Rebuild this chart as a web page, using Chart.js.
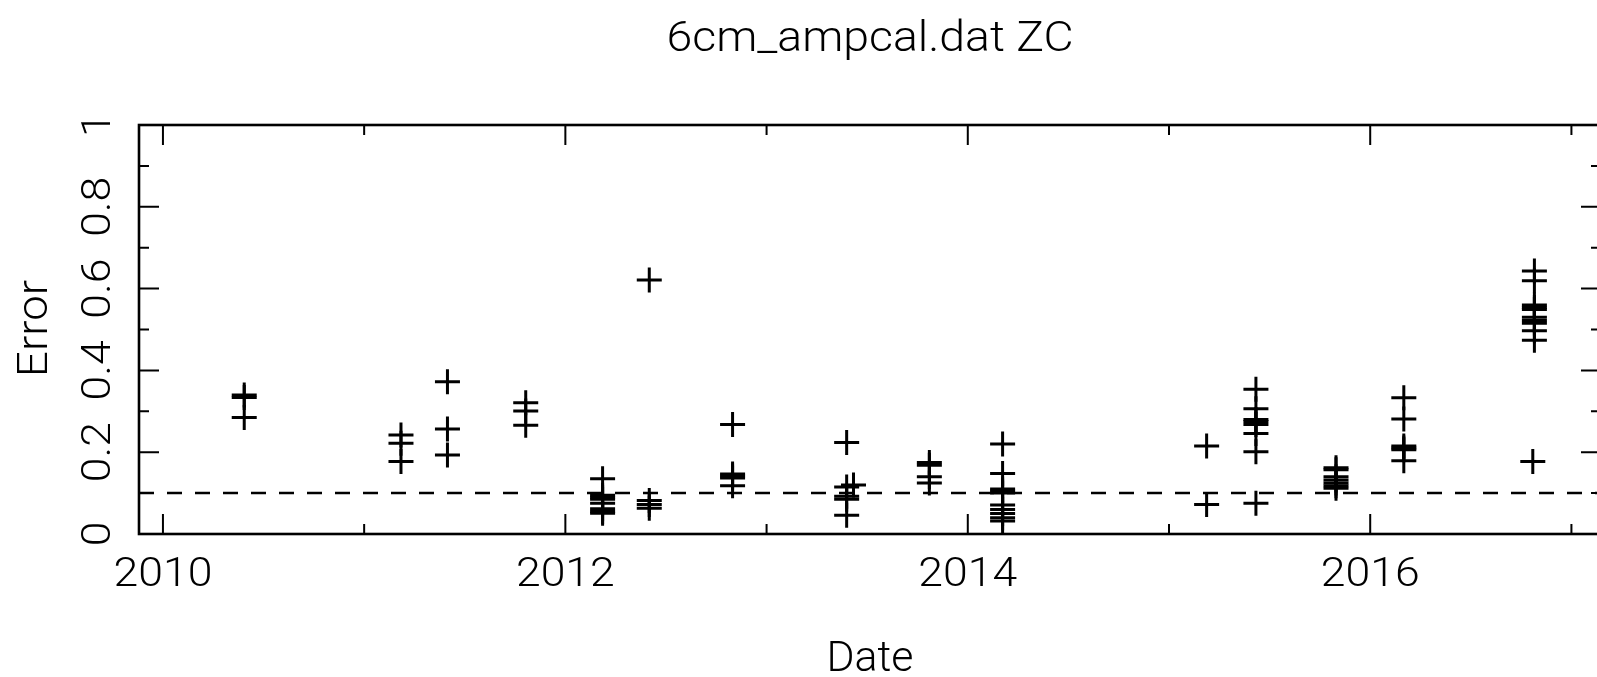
<!DOCTYPE html>
<html>
<head>
<meta charset="utf-8">
<title>6cm_ampcal.dat ZC</title>
<script src="https://cdn.jsdelivr.net/npm/chart.js@4.4.1/dist/chart.umd.min.js"></script>
<style>
  html, body { margin: 0; padding: 0; background: #ffffff; overflow: hidden; }
  canvas { display: block; }
</style>
</head>
<body>
<canvas id="plot" width="1605" height="677"></canvas>
<script>
// Observation epochs (decimal year) and the amplitude-calibration errors measured at each
const epochDates = [
  2010.404, 2011.183, 2011.414, 2011.803, 2012.185, 2012.417, 2012.831,
  2013.398, 2013.432, 2013.809, 2014.173, 2015.187, 2015.432, 2015.830,
  2016.167, 2016.816, 2016.808
];
const epochErrors = [
  [0.340, 0.334, 0.285],
  [0.242, 0.222, 0.177],
  [0.372, 0.257, 0.193],
  [0.321, 0.301, 0.266],
  [0.135, 0.095, 0.090, 0.085, 0.075, 0.062, 0.055, 0.051],
  [0.621, 0.082, 0.072, 0.063],
  [0.268, 0.147, 0.142, 0.137, 0.118],
  [0.224, 0.115, 0.092, 0.085, 0.046],
  [0.120],
  [0.175, 0.168, 0.140, 0.125],
  [0.220, 0.148, 0.110, 0.105, 0.100, 0.071, 0.060, 0.050, 0.040, 0.032],
  [0.215, 0.072],
  [0.354, 0.306, 0.280, 0.275, 0.268, 0.246, 0.201, 0.075],
  [0.162, 0.157, 0.140, 0.132, 0.125, 0.118, 0.112],
  [0.333, 0.281, 0.215, 0.210, 0.206, 0.179],
  [0.643, 0.619, 0.560, 0.554, 0.549, 0.530, 0.522, 0.515, 0.497, 0.474],
  [0.177]
];

// Reference level drawn as a dashed line
const errorThreshold = 0.1;

// Axis ranges and tick labels
const dateRange = [2009.881, 2017.147];
const errorRange = [0, 1];
const dateMajorTicks = [2010, 2012, 2014, 2016];
const dateMinorTicks = [2011, 2013, 2015, 2017];
const errorMajorTicks = [0, 0.2, 0.4, 0.6, 0.8, 1];
const errorMinorTicks = [0.1, 0.3, 0.5, 0.7, 0.9];
const errorTickLabels = ['0', '0.2', '0.4', '0.6', '0.8', '1'];
const dateTickLabels = ['2010', '2012', '2014', '2016'];

const points = [];
epochDates.forEach((d, i) => {
  epochErrors[i].forEach(e => points.push({ x: d, y: e }));
});

const FONT_FAMILY = 'Roboto, "DejaVu Sans", "Liberation Sans", sans-serif';

function drawLabel(ctx, text, x, y, size, opts) {
  const o = Object.assign({ rot: 0, sx: 1.087, width: null }, opts || {});
  ctx.save();
  ctx.font = '300 ' + size + 'px ' + FONT_FAMILY;
  ctx.fillStyle = '#000000';
  ctx.textAlign = 'center';
  ctx.textBaseline = 'alphabetic';
  let sx = o.sx;
  if (o.width) sx = o.width / ctx.measureText(text).width;
  ctx.translate(x, y);
  ctx.rotate(o.rot);
  ctx.scale(sx, 1);
  ctx.fillText(text, 0, 0);
  ctx.restore();
}

// Frame, inward ticks on all four sides, tick labels and titles
const framePlugin = {
  id: 'pgFrame',
  afterDatasetsDraw(chart) {
    const { ctx, chartArea: a, scales } = chart;
    const xs = scales.x, ys = scales.y;
    ctx.save();
    ctx.strokeStyle = '#000000';
    ctx.lineCap = 'butt';

    ctx.lineWidth = 2;
    ctx.beginPath();
    const tick = (v, len, horiz) => {
      if (horiz) {
        const px = xs.getPixelForValue(v);
        ctx.moveTo(px, a.bottom); ctx.lineTo(px, a.bottom - len);
        ctx.moveTo(px, a.top); ctx.lineTo(px, a.top + len);
      } else {
        const py = ys.getPixelForValue(v);
        ctx.moveTo(a.left, py); ctx.lineTo(a.left + len, py);
        ctx.moveTo(a.right, py); ctx.lineTo(a.right - len, py);
      }
    };
    dateMajorTicks.forEach(v => tick(v, 20, true));
    dateMinorTicks.forEach(v => tick(v, 10, true));
    errorMajorTicks.forEach(v => tick(v, 20, false));
    errorMinorTicks.forEach(v => tick(v, 10, false));
    ctx.stroke();

    ctx.lineWidth = 2.6;
    ctx.strokeRect(a.left, a.top, a.right - a.left, a.bottom - a.top);
    ctx.restore();

    // tick labels
    dateMajorTicks.forEach((v, i) => {
      drawLabel(ctx, dateTickLabels[i], xs.getPixelForValue(v), 586, 41);
    });
    errorMajorTicks.forEach((v, i) => {
      drawLabel(ctx, errorTickLabels[i], 110, ys.getPixelForValue(v), 41, { rot: -Math.PI / 2 });
    });

    // title and axis names
    const cx = (a.left + a.right) / 2;
    drawLabel(ctx, '6cm_ampcal.dat ZC', cx, 51, 42, { width: 407 });
    drawLabel(ctx, 'Date', cx, 671, 42, { width: 87 });
    drawLabel(ctx, 'Error', 47, 328.5, 42, { rot: -Math.PI / 2, width: 97 });
  }
};

new Chart(document.getElementById('plot'), {
  type: 'scatter',
  data: {
    datasets: [
      {
        label: 'Error',
        data: points,
        pointStyle: 'cross',
        pointRadius: 12.5,
        pointHoverRadius: 12.5,
        pointBorderWidth: 3,
        borderColor: '#000000',
        backgroundColor: '#000000'
      },
      {
        type: 'line',
        label: 'threshold',
        data: [{ x: dateRange[0], y: errorThreshold }, { x: dateRange[1], y: errorThreshold }],
        borderColor: '#000000',
        borderWidth: 2.5,
        borderDash: [15, 13],
        pointRadius: 0,
        fill: false
      }
    ]
  },
  options: {
    responsive: false,
    animation: false,
    devicePixelRatio: 1,
    events: [],
    layout: { autoPadding: false, padding: { left: 139, top: 125, right: 4, bottom: 143 } },
    plugins: { legend: { display: false }, title: { display: false }, tooltip: { enabled: false } },
    scales: {
      x: { type: 'linear', min: dateRange[0], max: dateRange[1], display: false },
      y: { type: 'linear', min: errorRange[0], max: errorRange[1], display: false }
    }
  },
  plugins: [framePlugin]
});
</script>
</body>
</html>
